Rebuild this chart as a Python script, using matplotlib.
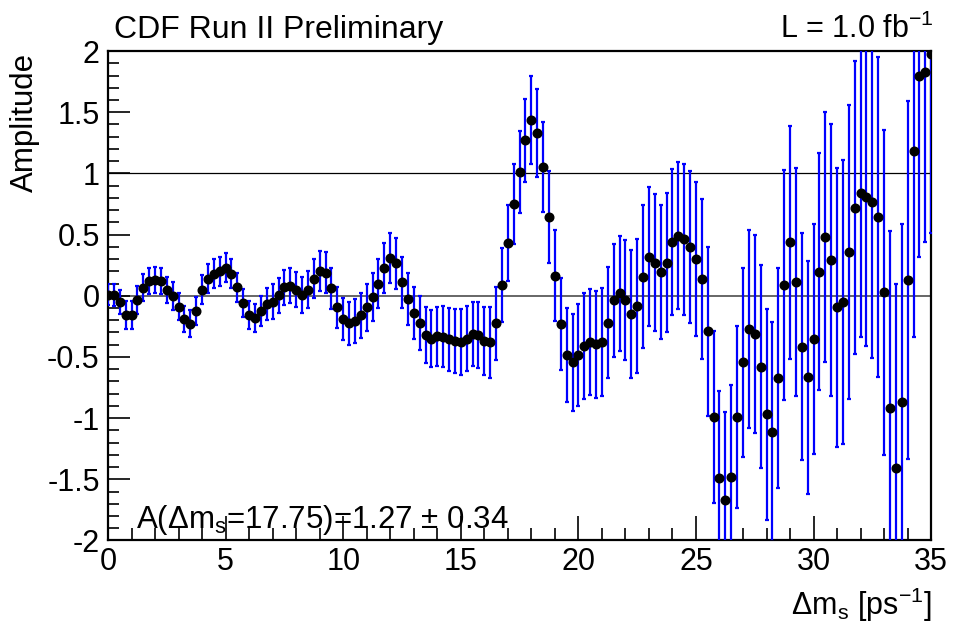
#!/usr/bin/env python
# amplitude scan plot, CDF style

import numpy as np
import matplotlib as mpl
mpl.use('Agg')
import matplotlib.pyplot as plt
from matplotlib.ticker import MultipleLocator


# data
dms = np.arange(0.0, 35.001, 0.25)   # scan points [ps^-1]

amplitude = [
     0.010,  0.010, -0.050, -0.160, -0.160, -0.035,  0.065,  0.120,  # 0.00 - 1.75
     0.130,  0.120,  0.047,  0.000, -0.090, -0.190, -0.230, -0.125,  # 2.00 - 3.75
     0.050,  0.140,  0.180,  0.200,  0.230,  0.180,  0.070, -0.060,  # 4.00 - 5.75
    -0.160, -0.180, -0.125, -0.070, -0.050,  0.005,  0.070,  0.080,  # 6.00 - 7.75
     0.050,  0.006,  0.050,  0.140,  0.200,  0.190,  0.060, -0.095,  # 8.00 - 9.75
    -0.190, -0.225, -0.210, -0.160, -0.095, -0.010,  0.100,  0.230,  # 10.00 - 11.75
     0.310,  0.265,  0.110, -0.027, -0.140, -0.225, -0.320, -0.350,  # 12.00 - 13.75
    -0.330, -0.335, -0.356, -0.370, -0.375, -0.350, -0.315, -0.318,  # 14.00 - 15.75
    -0.370, -0.380, -0.225,  0.087,  0.430,  0.750,  1.008,  1.270,  # 16.00 - 17.75
     1.435,  1.330,  1.050,  0.643,  0.163, -0.232, -0.488, -0.545,  # 18.00 - 19.75
    -0.485, -0.410, -0.380, -0.397, -0.378, -0.220, -0.038,  0.020,  # 20.00 - 21.75
    -0.035, -0.150, -0.084,  0.155,  0.320,  0.270,  0.196,  0.270,  # 22.00 - 23.75
     0.440,  0.490,  0.460,  0.400,  0.303,  0.137, -0.292, -0.990,  # 24.00 - 25.75
    -1.490, -1.670, -1.480, -0.990, -0.545, -0.270, -0.310, -0.580,  # 26.00 - 27.75
    -0.970, -1.116, -0.670,  0.087,  0.436,  0.114, -0.417, -0.668,  # 28.00 - 29.75
    -0.356,  0.196,  0.480,  0.290, -0.095, -0.050,  0.360,  0.720,  # 30.00 - 31.75
     0.840,  0.810,  0.770,  0.645,  0.028, -0.920, -1.405, -0.870,  # 32.00 - 33.75
     0.128,  1.185,  1.800,  1.825,  1.975,                          # 34.00 - 35.00
]

amplitude_err = [
    0.086, 0.090, 0.098, 0.115, 0.115, 0.115, 0.110, 0.106,
    0.108, 0.106, 0.110, 0.114, 0.110, 0.110, 0.110, 0.115,
    0.118, 0.120, 0.120, 0.120, 0.118, 0.118, 0.117, 0.116,
    0.115, 0.113, 0.120, 0.130, 0.143, 0.143, 0.142, 0.143,
    0.145, 0.148, 0.152, 0.158, 0.163, 0.165, 0.168, 0.170,
    0.173, 0.177, 0.180, 0.185, 0.193, 0.196, 0.200, 0.205,
    0.204, 0.208, 0.210, 0.212, 0.214, 0.222, 0.230, 0.236,
    0.242, 0.250, 0.260, 0.265, 0.270, 0.265, 0.262, 0.270,
    0.280, 0.290, 0.300, 0.300, 0.310, 0.327, 0.335, 0.340,
    0.357, 0.360, 0.368, 0.375, 0.372, 0.377, 0.384, 0.395,
    0.420, 0.432, 0.435, 0.437, 0.438, 0.453, 0.460, 0.470,
    0.490, 0.525, 0.550, 0.584, 0.569, 0.560, 0.549, 0.570,
    0.598, 0.600, 0.615, 0.620, 0.630, 0.650, 0.690, 0.700,
    0.710, 0.720, 0.750, 0.745, 0.770, 0.807, 0.810, 0.830,
    0.860, 0.900, 0.900, 0.940, 0.950, 0.930, 0.926, 0.950,
    0.940, 0.967, 1.025, 1.110, 1.140, 1.160, 1.200, 1.200,
    1.175, 1.220, 1.280, 1.310, 1.330, 1.450, 1.500, 1.460,
    1.460, 1.525, 1.480, 1.385, 1.460,
]

fit_text = 'A(Δm$_s$=17.75)=1.27 ± 0.34'


plt.rcParams['font.family'] = ['Liberation Sans', 'DejaVu Sans']
plt.rcParams['mathtext.default'] = 'regular'

fig = plt.figure(figsize=(9.56, 6.34), dpi=100)
ax = fig.add_axes([0.113, 0.1475, 0.861, 0.772])

# reference lines
ax.axhline(0.0, color='#5a5a5a', lw=1.3, zorder=1)
ax.axhline(1.0, color='black', lw=0.9, zorder=1)

ax.errorbar(dms, amplitude, yerr=amplitude_err, fmt='o', color='black',
            markersize=6.2, ecolor='#0000ff', elinewidth=1.6,
            capsize=1.3, capthick=1.6, zorder=3)

ax.set_xlim(0, 35)
ax.set_ylim(-2, 2)

ax.xaxis.set_major_locator(MultipleLocator(5))
ax.xaxis.set_minor_locator(MultipleLocator(1))
ax.yaxis.set_major_locator(MultipleLocator(0.5))
ax.yaxis.set_minor_locator(MultipleLocator(0.1))
ax.yaxis.set_major_formatter(mpl.ticker.FuncFormatter(lambda v, p: '%g' % v))

ax.tick_params(axis='both', which='both', direction='in', top=False, right=False,
               labelsize=22, width=1.2)
ax.tick_params(axis='x', which='major', length=17, pad=5)
ax.tick_params(axis='x', which='minor', length=8.5)
ax.tick_params(axis='y', which='major', length=16, pad=6)
ax.tick_params(axis='y', which='minor', length=8)
for s in ax.spines.values():
    s.set_linewidth(1.6)

fig.text(0.026, 0.917, 'Amplitude', rotation=90, ha='center', va='top', fontsize=22.5)
fig.text(0.975, 0.015, r'$\Delta m_s$ [ps$^{-1}$]', ha='right', va='bottom', fontsize=22)
fig.text(0.119, 0.94, 'CDF Run II Preliminary', ha='left', va='baseline', fontsize=23)
fig.text(0.977, 0.94, 'L = 1.0 fb$^{-1}$', ha='right', va='baseline', fontsize=22)
ax.text(1.2, -1.9, fit_text, ha='left', va='baseline', fontsize=22.5, zorder=5)

fig.savefig('out.png', dpi=100)
